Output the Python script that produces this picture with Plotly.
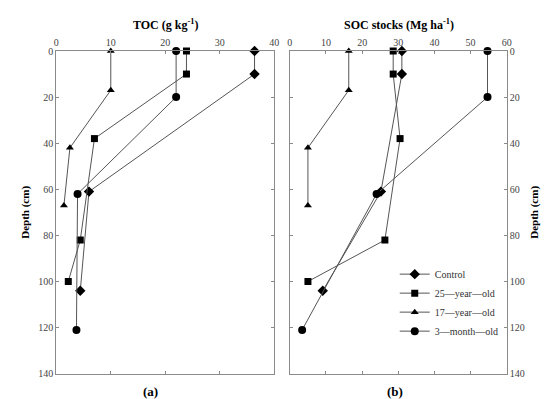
import plotly.graph_objects as go

series_names = ["Control", "25\u2014year\u2014old", "17\u2014year\u2014old", "3\u2014month\u2014old"]
symbols = ["diamond", "square", "triangle-up", "circle"]

# Panel (a): TOC (g kg-1)
toc_ctrl_x = [36.4, 36.4, 6.0, 4.4]
toc_ctrl_d = [0, 10, 61, 104]
toc_25_x = [23.9, 23.9, 7.0, 4.4, 2.2]
toc_25_d = [0, 10, 38, 82, 100]
toc_17_x = [10.0, 10.0, 2.5, 1.4]
toc_17_d = [0, 17, 42, 67]
toc_3m_x = [22.0, 22.0, 3.9, 3.7]
toc_3m_d = [0, 20, 62, 121]

# Panel (b): SOC stocks (Mg ha-1)
soc_ctrl_x = [31.0, 31.0, 25.2, 9.1]
soc_ctrl_d = [0, 10, 61, 104]
soc_25_x = [28.6, 28.6, 30.5, 26.3, 5.0]
soc_25_d = [0, 10, 38, 82, 100]
soc_17_x = [16.3, 16.3, 5.0, 5.0]
soc_17_d = [0, 17, 42, 67]
soc_3m_x = [54.7, 54.7, 24.0, 3.4]
soc_3m_d = [0, 20, 62, 121]

toc_x_ticks = [0, 10, 20, 30, 40]
soc_x_ticks = [0, 10, 20, 30, 40, 50, 60]
depth_ticks = [0, 20, 40, 60, 80, 100, 120, 140]

FONT = "Liberation Serif"
LINE_C = "#555555"
AX_C = "#8a8a8a"

fig = go.Figure()

toc = [(toc_ctrl_x, toc_ctrl_d), (toc_25_x, toc_25_d), (toc_17_x, toc_17_d), (toc_3m_x, toc_3m_d)]
soc = [(soc_ctrl_x, soc_ctrl_d), (soc_25_x, soc_25_d), (soc_17_x, soc_17_d), (soc_3m_x, soc_3m_d)]

msize = {"diamond": 8, "square": 7, "triangle-up": 7, "circle": 8}

for i, (x, d) in enumerate(toc):
    fig.add_trace(go.Scatter(x=x, y=d, mode="lines+markers", name=series_names[i],
                             line=dict(color=LINE_C, width=1),
                             marker=dict(symbol=symbols[i], size=msize[symbols[i]], color="black"),
                             showlegend=False, cliponaxis=False, xaxis="x", yaxis="y"))
for i, (x, d) in enumerate(soc):
    fig.add_trace(go.Scatter(x=x, y=d, mode="lines+markers", name=series_names[i],
                             line=dict(color=LINE_C, width=1),
                             marker=dict(symbol=symbols[i], size=msize[symbols[i]], color="black"),
                             showlegend=True, cliponaxis=False, xaxis="x2", yaxis="y2"))

ax_common = dict(showline=True, linecolor=AX_C, linewidth=1, showgrid=False, zeroline=False,
                 ticks="inside", ticklen=3, tickcolor=AX_C, mirror="ticks",
                 tickfont=dict(family=FONT, size=10, color="#444444"))

fig.update_layout(
    width=550, height=399,
    margin=dict(l=0, r=0, t=0, b=0),
    paper_bgcolor="white", plot_bgcolor="white",
    font=dict(family=FONT, color="black"),
    xaxis=dict(domain=[0.0836, 0.4855], range=[0, 40], side="top", tickvals=toc_x_ticks,
               anchor="y", **ax_common),
    yaxis=dict(domain=[0.0727, 0.9023], range=[140, 0], tickvals=depth_ticks, anchor="x",
               title=dict(text="<b>Depth (cm)</b>", font=dict(family=FONT, size=11), standoff=6),
               **ax_common),
    xaxis2=dict(domain=[0.5145, 0.9145], range=[0, 60], side="top", tickvals=soc_x_ticks,
                anchor="y2", **ax_common),
    yaxis2=dict(domain=[0.0727, 0.9023], range=[140, 0], tickvals=depth_ticks, anchor="x2",
                side="right",
                title=dict(text="<b>Depth (cm)</b>", font=dict(family=FONT, size=11), standoff=6),
                **ax_common),
    legend=dict(x=0.708, y=0.366, xanchor="left", yanchor="top", bgcolor="rgba(0,0,0,0)",
                font=dict(family=FONT, size=10, color="#333333"), tracegroupgap=0,
                itemwidth=30),
    annotations=[
        dict(text="<b>TOC (g kg<sup>-1</sup>)</b>", x=0.2845, y=1 - 12/399, xref="paper", yref="paper",
             showarrow=False, font=dict(family=FONT, size=12), xanchor="center", yanchor="middle"),
        dict(text="<b>SOC stocks (Mg ha<sup>-1</sup>)</b>", x=0.7165, y=1 - 12/399, xref="paper", yref="paper",
             showarrow=False, font=dict(family=FONT, size=12), xanchor="center", yanchor="middle"),
        dict(text="<b>(a)</b>", x=142/550, y=1 - 388/399, xref="paper", yref="paper",
             showarrow=False, font=dict(family=FONT, size=13), xanchor="center", yanchor="middle"),
        dict(text="<b>(b)</b>", x=390/550, y=1 - 388/399, xref="paper", yref="paper",
             showarrow=False, font=dict(family=FONT, size=13), xanchor="center", yanchor="middle"),
    ],
)

fig.write_html("out.html")
